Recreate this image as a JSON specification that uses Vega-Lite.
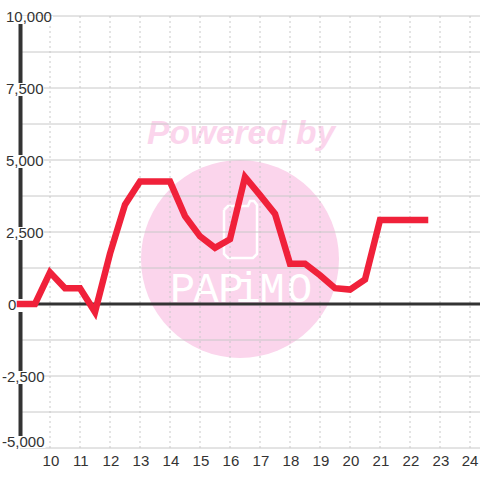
{
"$schema":"https://vega.github.io/schema/vega-lite/v6.json",
"width":460,"height":432,
"autosize":{"type":"none"},
"padding":{"left":20,"top":16,"right":0,"bottom":32},
"background":"#ffffff",
"config":{"view":{"stroke":null},"axis":{"disable":true}},
"datasets":{
"series":[{"hour":9,"value":0},{"hour":9.5,"value":0},{"hour":10,"value":1100},{"hour":10.5,"value":550},{"hour":11,"value":550},{"hour":11.5,"value":-280},{"hour":12,"value":1750},{"hour":12.5,"value":3450},{"hour":13,"value":4250},{"hour":13.5,"value":4250},{"hour":14,"value":4250},{"hour":14.5,"value":3050},{"hour":15,"value":2350},{"hour":15.5,"value":1950},{"hour":16,"value":2250},{"hour":16.5,"value":4410},{"hour":17,"value":3780},{"hour":17.5,"value":3130},{"hour":18,"value":1400},{"hour":18.5,"value":1400},{"hour":19,"value":1000},{"hour":19.5,"value":550},{"hour":20,"value":500},{"hour":20.5,"value":850},{"hour":21,"value":2920},{"hour":21.5,"value":2920},{"hour":22,"value":2920},{"hour":22.5,"value":2920}],
"hgrid":[{"value":10000},{"value":8750},{"value":7500},{"value":6250},{"value":5000},{"value":3750},{"value":2500},{"value":1250},{"value":-1250},{"value":-2500},{"value":-3750},{"value":-5000}],
"vgrid":[{"hour":10},{"hour":11},{"hour":12},{"hour":13},{"hour":14},{"hour":15},{"hour":16},{"hour":17},{"hour":18},{"hour":19},{"hour":20},{"hour":21},{"hour":22},{"hour":23},{"hour":24}],
"boxes":[{"x":8.8,"x2":10.1,"y":10000,"y2":9722},{"x":8.8,"x2":9.8,"y":7674,"y2":7222},{"x":8.8,"x2":9.8,"y":5174,"y2":4722},{"x":8.8,"x2":9.8,"y":2674,"y2":2222},{"x":8.8,"x2":9.25,"y":174,"y2":-278},{"x":8.8,"x2":9.8,"y":-2326,"y2":-2778},{"x":8.8,"x2":9.85,"y":-4583,"y2":-5000}],
"letters":[{"hour":14.42,"value":60,"t":"P"},{"hour":15.2,"value":60,"t":"A"},{"hour":16.03,"value":60,"t":"P"},{"hour":16.6,"value":60,"t":"i"},{"hour":17.4,"value":60,"t":"M"},{"hour":18.32,"value":60,"t":"O"}],
"phone":[{"i":1,"hour":15.8,"value":3264},{"i":2,"hour":15.933,"value":3403},{"i":3,"hour":16.6,"value":3403},{"i":4,"hour":16.667,"value":3576},{"i":5,"hour":16.8,"value":3576},{"i":6,"hour":16.9,"value":3438},{"i":7,"hour":16.9,"value":1736},{"i":8,"hour":16.767,"value":1597},{"i":9,"hour":15.933,"value":1597},{"i":10,"hour":15.8,"value":1736},{"i":11,"hour":15.8,"value":3264}],
"ylabels":[{"hour":8.533,"value":9976,"t":"10,000"},{"hour":8.533,"value":7476,"t":"7,500"},{"hour":8.533,"value":4976,"t":"5,000"},{"hour":8.533,"value":2476,"t":"2,500"},{"hour":8.6,"value":-35,"t":"0"},{"hour":8.4,"value":-2524,"t":"-2,500"},{"hour":8.4,"value":-4781,"t":"-5,000"}],
"xlabels":[{"hour":10.03,"value":-5451,"t":"10"},{"hour":11.03,"value":-5451,"t":"11"},{"hour":12.03,"value":-5451,"t":"12"},{"hour":13.03,"value":-5451,"t":"13"},{"hour":14.03,"value":-5451,"t":"14"},{"hour":15.03,"value":-5451,"t":"15"},{"hour":16.03,"value":-5451,"t":"16"},{"hour":17.03,"value":-5451,"t":"17"},{"hour":18.03,"value":-5451,"t":"18"},{"hour":19.03,"value":-5451,"t":"19"},{"hour":20.03,"value":-5451,"t":"20"},{"hour":21.03,"value":-5451,"t":"21"},{"hour":22.03,"value":-5451,"t":"22"},{"hour":23.03,"value":-5451,"t":"23"},{"hour":24.0,"value":-5451,"t":"24"}]
},
"layer":[
{"data":{"values":[{"hour":16.333,"value":1562}]},
 "mark":{"type":"point","filled":true,"shape":"circle","size":39204,"color":"#fbd5ec","opacity":1},
 "encoding":{
  "x":{"field":"hour","type":"quantitative","title":null,"scale":{"domain":[9,24.333],"nice":false,"zero":false}},
  "y":{"field":"value","type":"quantitative","title":null,"scale":{"domain":[-5000,10000],"nice":false,"zero":false}}
 }},
{"data":{"values":[{"hour":16.37,"value":5540,"t":"Powered by"}]},
 "mark":{"type":"text","font":"Liberation Sans","fontSize":33.5,"fontWeight":"bold","fontStyle":"italic","color":"#fbd5ec","align":"center","baseline":"alphabetic"},
 "encoding":{"x":{"field":"hour","type":"quantitative"},"y":{"field":"value","type":"quantitative"},"text":{"field":"t"}}},
{"data":{"name":"letters"},
 "mark":{"type":"text","font":"Liberation Mono","fontSize":42,"color":"#ffffff","align":"center","baseline":"alphabetic"},
 "encoding":{"x":{"field":"hour","type":"quantitative"},"y":{"field":"value","type":"quantitative"},"text":{"field":"t"}}},
{"data":{"name":"phone"},
 "mark":{"type":"line","color":"#ffffff","strokeWidth":2.5},
 "encoding":{"x":{"field":"hour","type":"quantitative"},"y":{"field":"value","type":"quantitative"},"order":{"field":"i","type":"quantitative"}}},
{"data":{"name":"hgrid"},
 "mark":{"type":"rule","color":"#c8c8c8","strokeWidth":1},
 "encoding":{"y":{"field":"value","type":"quantitative"}}},
{"data":{"name":"vgrid"},
 "mark":{"type":"rule","color":"#c8c8c8","strokeWidth":1,"strokeDash":[2,3]},
 "encoding":{"x":{"field":"hour","type":"quantitative"}}},
{"data":{"values":[{"value":0}]},
 "mark":{"type":"rule","color":"#333333","strokeWidth":3},
 "encoding":{"y":{"field":"value","type":"quantitative"}}},
{"data":{"values":[{"hour":9.017,"a":10000,"b":-5000}]},
 "mark":{"type":"rule","color":"#333333","strokeWidth":4},
 "encoding":{"x":{"field":"hour","type":"quantitative"},"y":{"field":"a","type":"quantitative"},"y2":{"field":"b"}}},
{"data":{"name":"boxes"},
 "mark":{"type":"rect","color":"#ffffff","opacity":1},
 "encoding":{"x":{"field":"x","type":"quantitative"},"x2":{"field":"x2"},"y":{"field":"y","type":"quantitative"},"y2":{"field":"y2"}}},
{"data":{"name":"series"},
 "mark":{"type":"line","color":"#f0213a","strokeWidth":6.5,"strokeCap":"square","strokeJoin":"miter","clip":false},
 "encoding":{"x":{"field":"hour","type":"quantitative"},"y":{"field":"value","type":"quantitative"}}},
{"data":{"name":"ylabels"},
 "mark":{"type":"text","font":"Liberation Sans","fontSize":15,"color":"#333333","align":"left","baseline":"middle"},
 "encoding":{"x":{"field":"hour","type":"quantitative"},"y":{"field":"value","type":"quantitative"},"text":{"field":"t"}}},
{"data":{"name":"xlabels"},
 "mark":{"type":"text","font":"Liberation Sans","fontSize":15,"color":"#333333","align":"center","baseline":"middle"},
 "encoding":{"x":{"field":"hour","type":"quantitative"},"y":{"field":"value","type":"quantitative"},"text":{"field":"t"}}}
]
}
